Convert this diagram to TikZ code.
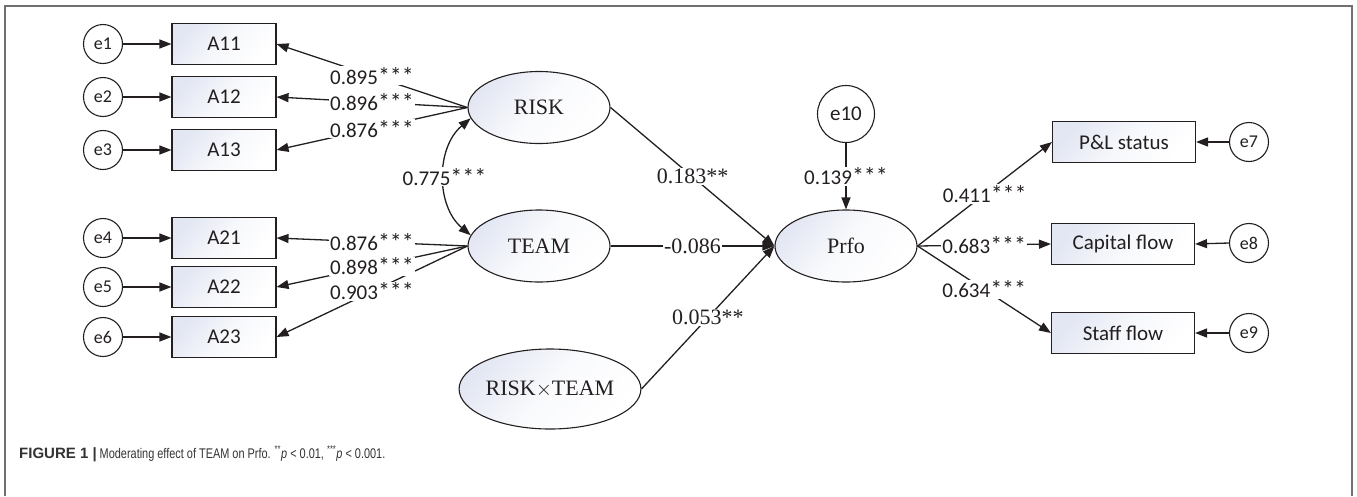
\documentclass[tikz,border=0pt]{standalone}
\usepackage{fontspec}
\setmainfont{Liberation Serif}
\newfontfamily\calibri{Carlito}
\newfontfamily\capbold{Liberation Sans}
\newfontfamily\capcond[FakeStretch=0.78]{Liberation Sans}
\usetikzlibrary{arrows.meta,shapes.geometric}
\definecolor{ink}{HTML}{231F20}
\definecolor{framegray}{HTML}{707070}
\definecolor{shadeblue}{HTML}{E3E7F3}
\definecolor{captext}{HTML}{333333}

\newcommand\strs[1]{{\fontsize{24}{24}\selectfont #1}}

\tikzset{
  tip/.tip={Triangle[length=12pt,width=9pt]},
  obs/.style={draw=ink, line width=1.1pt, minimum width=104pt, minimum height=41pt,
    inner sep=0pt, text=ink, font=\calibri\fontsize{21}{21}\selectfont,
    top color=shadeblue, bottom color=white, middle color=white!70!shadeblue, shading angle=50},
  obswide/.style={obs, minimum width=143pt},
  err/.style={circle, draw=ink, line width=1.1pt, fill=white, minimum size=39pt,
    inner sep=0pt, text=ink, font=\calibri\fontsize{18}{18}\selectfont},
  lat/.style={ellipse, draw=ink, line width=1.1pt, minimum width=142pt, minimum height=72pt,
    inner sep=0pt, text=ink, font=\fontsize{22}{22}\selectfont,
    top color=shadeblue, bottom color=white, middle color=white!80!shadeblue, shading angle=50},
  arr/.style={-tip, line width=1.3pt, draw=ink},
  dbl/.style={tip-tip, line width=1.3pt, draw=ink},
  coef/.style={fill=white, inner sep=1pt, text=ink, font=\calibri\fontsize{21}{21}\selectfont},
  coefs/.style={fill=white, inner sep=1pt, text=ink, font=\fontsize{22}{22}\selectfont},
}

\begin{document}
\begin{tikzpicture}[x=1pt, y=-1pt]
\useasboundingbox (0,0) rectangle (1357,496);

% frame
\draw[framegray, line width=1.5pt] (5,496) -- (5,6) -- (1352,6) -- (1352,496);

% indicators of RISK and TEAM
\node[err] (e1) at (103,44) {e1};
\node[err] (e2) at (103,97) {e2};
\node[err] (e3) at (103,150) {e3};
\node[err] (e4) at (103,238) {e4};
\node[err] (e5) at (103,287) {e5};
\node[err] (e6) at (103,337) {e6};

\node[obs] (A11) at (224,44) {A11};
\node[obs] (A12) at (224,97) {A12};
\node[obs] (A13) at (224,150) {A13};
\node[obs] (A21) at (224,238) {A21};
\node[obs] (A22) at (224,287) {A22};
\node[obs] (A23) at (224,337) {A23};

% latent variables
\node[lat] (RISK) at (539,107.5) {RISK};
\node[lat] (TEAM) at (539,246) {TEAM};
\node[lat, minimum width=166pt, minimum height=80pt] (RT) at (550,389) {RISK$\times$TEAM};
\node[lat] (Prfo) at (846,246) {Prfo};
\node[err, minimum size=57pt, font=\calibri\fontsize{21}{21}\selectfont] (e10) at (846,114) {e10};

% outcome indicators
\node[obswide] (PL) at (1124,142) {P\&L status};
\node[obswide] (CF) at (1123,244) {Capital flow};
\node[obswide] (SF) at (1123,333) {Staff flow};
\node[err] (e7) at (1249,142) {e7};
\node[err] (e8) at (1249,243) {e8};
\node[err] (e9) at (1249,333) {e9};

% error terms
\foreach \e/\a in {e1/A11,e2/A12,e3/A13,e4/A21,e5/A22,e6/A23}
  \draw[arr] (\e.east) -- (\a.west);
\foreach \e/\a in {e7/PL,e8/CF,e9/SF}
  \draw[arr] (\e.west) -- (\a.east);

% loadings
\draw[arr] (RISK.west) -- (A11.east);
\draw[arr] (RISK.west) -- (A12.east);
\draw[arr] (RISK.west) -- (A13.east);
\draw[arr] (TEAM.west) -- (A21.east);
\draw[arr] (TEAM.west) -- (A22.east);
\draw[arr] (TEAM.west) -- (A23.east);

% covariance
\draw[dbl] (RISK.189) to[bend right=50] coordinate[pos=0.5] (covmid) (TEAM.171);

% structural paths
\draw[arr] (RISK.east) -- (Prfo.west);
\draw[arr] (TEAM.east) -- (Prfo.west);
\draw[arr] (RT.east) -- (Prfo.west);
\draw[arr] (e10.south) -- (Prfo.north);
\draw[arr] (Prfo.east) -- (PL.west);
\draw[arr] (Prfo.east) -- (CF.west);
\draw[arr] (Prfo.east) -- (SF.west);

% coefficients
\path (RISK.west) -- node[coef] {0.895\strs{***}} (A11.east);
\path (RISK.west) -- node[coef] {0.896\strs{***}} (A12.east);
\path (RISK.west) -- node[coef] {0.876\strs{***}} (A13.east);
\path (TEAM.west) -- node[coef] {0.876\strs{***}} (A21.east);
\path (TEAM.west) -- node[coef] {0.898\strs{***}} (A22.east);
\path (TEAM.west) -- node[coef] {0.903\strs{***}} (A23.east);
\node[coef] (cov) at (covmid) {0.775\strs{***}};
\path (RISK.east) -- node[coefs] {0.183**} (Prfo.west);
\path (TEAM.east) -- node[coefs] {-0.086} (Prfo.west);
\path (RT.east) -- node[coefs] {0.053**} (Prfo.west);
\path (e10.south) -- node[coef] {0.139\strs{***}} (Prfo.north);
\path (Prfo.east) -- node[coef] {0.411\strs{***}} (PL.west);
\path (Prfo.east) -- node[coef] {0.683\strs{***}} (CF.west);
\path (Prfo.east) -- node[coef] {0.634\strs{***}} (SF.west);

% caption
\node[anchor=base west, inner sep=0pt, text=captext] (cap) at (19,458)
  {{\capbold\bfseries\fontsize{15}{15}\selectfont FIGURE 1 |}\hspace{3pt}%
   {\capcond\fontsize{14}{14}\selectfont Moderating effect of TEAM on Prfo. \textsuperscript{**}\textit{p} < 0.01, \textsuperscript{***}\textit{p} < 0.001.}};
\end{tikzpicture}
\end{document}
